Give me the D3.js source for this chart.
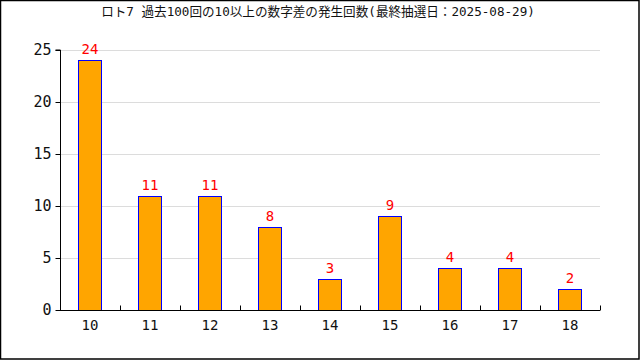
<!DOCTYPE html>
<html>
<head>
<meta charset="utf-8">
<script src="https://cdn.jsdelivr.net/npm/d3@7"></script>
<style>
body { margin: 0; background: #fff; }
svg { display: block; }
</style>
</head>
<body>
<svg width="640" height="360"></svg>
<script>
// データ
var diffs = ['10', '11', '12', '13', '14', '15', '16', '17', '18'];
var counts = [24, 11, 11, 8, 3, 9, 4, 4, 2];
var yTicks = [0, 5, 10, 15, 20, 25];
var title = 'ロト7 過去100回の10以上の数字差の発生回数(最終抽選日：2025-08-29)';

var font = '"DejaVu Sans Mono", "Noto Sans CJK JP", monospace';
var svg = d3.select('svg');

svg.append('rect').attr('x', 0.5).attr('y', 0.5).attr('width', 638.5).attr('height', 358.5)
  .attr('fill', 'white').attr('stroke', 'black').attr('stroke-width', 1.5);

svg.append('text').attr('x', 318).attr('y', 16).attr('text-anchor', 'middle')
  .attr('font-family', font).attr('font-size', 12.6).attr('fill', '#111').text(title);

var x = d3.scaleBand().domain(diffs).range([60, 600]).paddingInner(0.6).paddingOuter(0.3);
var y = d3.scaleLinear().domain([0, 25]).range([310, 50]);

// grid
svg.append('g').selectAll('line').data(yTicks.filter(function(d){ return d > 0; })).enter().append('line')
  .attr('x1', 60).attr('x2', 600).attr('y1', function(d){ return Math.round(y(d)) + 0.5; }).attr('y2', function(d){ return Math.round(y(d)) + 0.5; })
  .attr('stroke', '#dcdcdc').attr('stroke-width', 1);

// bars
svg.append('g').selectAll('rect').data(counts).enter().append('rect')
  .attr('x', function(d, i){ return Math.round(x(diffs[i])) + 0.5; })
  .attr('y', function(d){ return Math.round(y(d)) + 0.5; })
  .attr('width', Math.round(x.bandwidth()) - 1)
  .attr('height', function(d){ return Math.round(y(0)) - Math.round(y(d)); })
  .attr('fill', 'orange').attr('stroke', 'blue').attr('stroke-width', 1);

svg.append('g').selectAll('text').data(counts).enter().append('text')
  .attr('x', function(d, i){ return x(diffs[i]) + x.bandwidth() / 2; })
  .attr('y', function(d){ return y(d) - 6; })
  .attr('text-anchor', 'middle').attr('font-family', font).attr('font-size', 14)
  .attr('fill', 'red').text(function(d){ return d; });

// y axis
var ya = svg.append('g').attr('transform', 'translate(60.5,0)')
  .call(d3.axisLeft(y).tickValues(yTicks).tickSize(5).tickPadding(4));
ya.select('.domain').attr('d', 'M-5,' + y(25) + 'H0V' + y(0));
ya.selectAll('text').attr('font-family', font).attr('font-size', 15).attr('fill', '#111');

// x axis
var xa = svg.append('g').attr('transform', 'translate(0,310.5)')
  .call(d3.axisBottom(x).tickSize(0).tickPadding(10));
xa.select('.domain').attr('d', 'M60,0H600');
xa.selectAll('text').attr('font-family', font).attr('font-size', 14).attr('fill', '#111');
var bounds = d3.range(0, diffs.length + 1).map(function(i){ return 60 + i * 60; });
xa.selectAll('.sep').data(bounds).enter().append('line').attr('class', 'sep')
  .attr('x1', function(d){ return d + 0.5; }).attr('x2', function(d){ return d + 0.5; })
  .attr('y1', -5).attr('y2', 0).attr('stroke', 'black');
</script>
</body>
</html>
